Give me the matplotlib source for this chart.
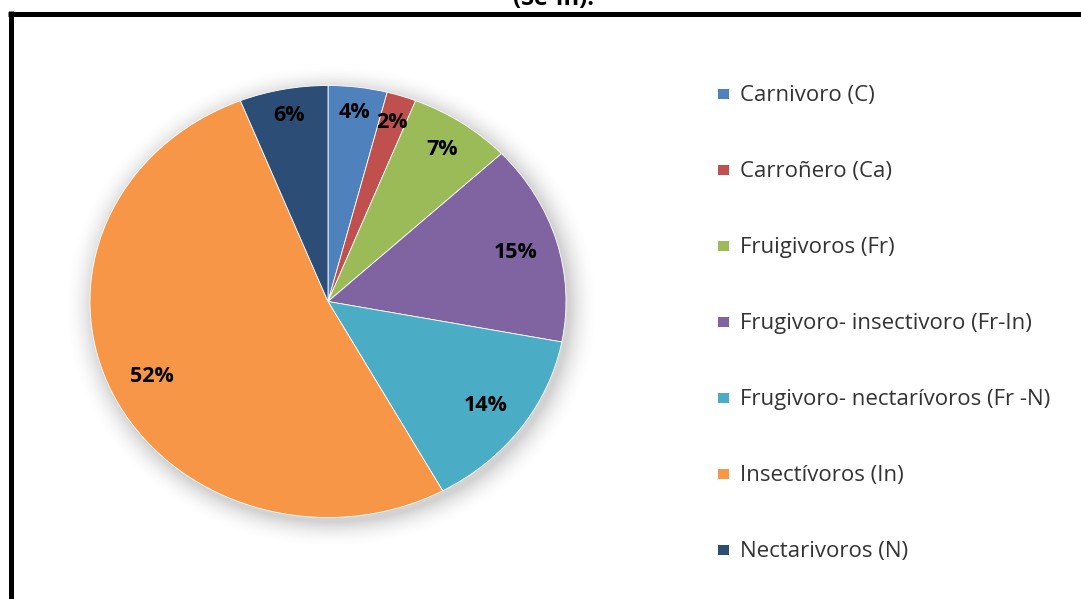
import numpy as np
import matplotlib
matplotlib.use("Agg")
import matplotlib.pyplot as plt
from matplotlib.lines import Line2D
from matplotlib.patches import Rectangle

plt.rcParams['font.family'] = ['Open Sans', 'DejaVu Sans']

# Gremios tróficos
categorias = ['Carnivoro (C)', 'Carroñero (Ca)', 'Fruigivoros (Fr)',
              'Frugivoro- insectivoro (Fr-In)', 'Frugivoro- nectarívoros (Fr -N)',
              'Insectívoros (In)', 'Nectarivoros (N)']
porcentajes = [4, 2, 7, 15, 14, 52, 6]
colores = ['#4F81BD', '#C0504D', '#9BBB59', '#8064A2',
           '#4BACC6', '#F79646', '#2C4D75']

W, H = 1081, 599
fig = plt.figure(figsize=(W / 100, H / 100), dpi=100)

# Sombra suave alrededor del pastel
cx, cy, rx, ry = 328, 301.5, 238, 216
yy, xx = np.mgrid[0:H, 0:W]
r = np.hypot((xx - cx - 3) / rx, (yy - cy - 4) / ry)
dist = (r - 1) * 227
alpha = np.clip(1 - dist / 28, 0, 1) ** 2 * 0.32
sombra = np.zeros((H, W, 4))
sombra[..., :3] = 0.45
sombra[..., 3] = alpha
bg = fig.add_axes([0, 0, 1, 1], zorder=0)
bg.imshow(sombra, extent=(0, W, H, 0), aspect='auto', interpolation='bilinear')
bg.set_xlim(0, W)
bg.set_ylim(H, 0)
bg.axis('off')

# Pastel
ax = fig.add_axes([(cx - rx) / W, (H - cy - ry) / H, 2 * rx / W, 2 * ry / H], zorder=1)
ax.patch.set_alpha(0)
wedges, textos, pcts = ax.pie(porcentajes, colors=colores, startangle=90,
                              counterclock=False, autopct='%1.0f%%',
                              pctdistance=0.84,
                              wedgeprops={'edgecolor': 'white', 'linewidth': 0.6},
                              textprops={'fontsize': 15.5, 'fontweight': 'bold',
                                         'color': 'black'})
ax.set_aspect('auto')
ax.set_xlim(-1, 1)
ax.set_ylim(-1, 1)

# Las etiquetas de arriba van un poco más afuera
radios = [0.88, 0.87, 0.85, 0.82, 0.82, 0.82, 0.875]
for w, t, rad in zip(wedges, pcts, radios):
    ang = np.deg2rad((w.theta1 + w.theta2) / 2)
    t.set_position((rad * np.cos(ang), rad * np.sin(ang)))

# Leyenda
filas = [94, 170, 246, 322, 398, 474, 550]
for nombre, color, y in zip(categorias, colores, filas):
    fig.add_artist(Rectangle((718 / W, (H - y - 5) / H), 11 / W, 10 / H,
                             transform=fig.transFigure, facecolor=color,
                             edgecolor='none'))
    fig.text(740 / W, (H - y - 2) / H, nombre, fontsize=16, color='#333333',
             ha='left', va='center')

# Marco y título recortado
fig.add_artist(Line2D([10.5 / W, 10.5 / W], [0, (H - 11) / H], color='black',
                      linewidth=3.6, transform=fig.transFigure,
                      solid_capstyle='butt'))
fig.add_artist(Line2D([8 / W, 1], [(H - 13.5) / H, (H - 13.5) / H], color='black',
                      linewidth=3.6, transform=fig.transFigure,
                      solid_capstyle='butt'))
fig.text(553 / W, 1 - 5 / H, '(Se-In).', fontsize=17, fontweight='bold',
         ha='center', va='baseline', color='black')

fig.savefig('out.png', dpi=100)
